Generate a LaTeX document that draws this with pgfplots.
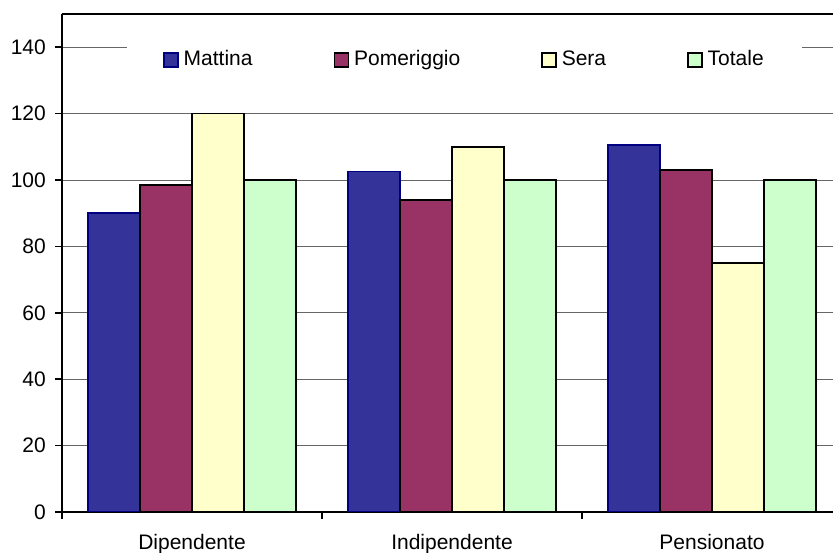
\documentclass[border=0pt]{standalone}
\usepackage{fontspec}
\setmainfont{Liberation Sans}
\usepackage{pgfplots}
\pgfplotsset{compat=1.18}
\usetikzlibrary{calc}
\definecolor{cM}{HTML}{333399}
\definecolor{cMb}{HTML}{000080}
\definecolor{cP}{HTML}{993366}
\definecolor{cS}{HTML}{FFFFCC}
\definecolor{cT}{HTML}{CCFFCC}
\begin{document}
\fontsize{21}{25}\selectfont
\begin{tikzpicture}
\begin{axis}[
  name=ax,
  scale only axis,
  width=771pt, height=498pt,
  xmin=-0.5, xmax=2.4654,
  ymin=0, ymax=150,
  axis x line*=box,
  axis y line*=left,
  axis line style={line width=1.8pt, black},
  ytick={0,20,...,140},
  ymajorgrids,
  grid style={line width=0.9pt, gray!80!black},
  xtick={0,1,2},
  xticklabels={Dipendente,Indipendente,Pensionato},
  minor xtick={-0.5,0.5,1.5},
  xtick pos=bottom,
  ytick pos=left,
  tick align=outside,
  major tick length=7pt,
  minor tick length=7pt,
  major x tick style={draw=none},
  tick style={line width=1.5pt, black},
  minor tick style={line width=1.5pt, black},
  /pgf/number format/assume math mode=true,
  tick label style={font=\fontsize{21}{25}\selectfont},
  y tick label style={xshift=-2pt},
  x tick label style={yshift=-8.5pt},
  ybar,
  bar width=0.2,
  legend columns=4,
  legend style={at={(0.522,0.908)}, anchor=center, draw=none, fill=white,
    font=\fontsize{21}{25}\selectfont, inner xsep=36pt, inner ysep=10pt,
    /tikz/every odd column/.append style={column sep=3pt},
    /tikz/every even column/.append style={column sep=79pt}},
  legend image code/.code={\draw[#1] (0pt,-7pt) rectangle (14pt,7pt);},
]
\addplot[fill=cM, draw=cMb, line width=1.5pt, bar shift=-0.3] coordinates {(0,90) (1,102.5) (2,110.5)};
\addplot[fill=cP, draw=black, line width=1.5pt, bar shift=-0.1] coordinates {(0,98.5) (1,94) (2,103)};
\addplot[fill=cS, draw=black, line width=1.5pt, bar shift=0.1] coordinates {(0,120) (1,110) (2,75)};
\addplot[fill=cT, draw=black, line width=1.5pt, bar shift=0.3] coordinates {(0,100) (1,100) (2,100)};
\legend{Mattina,Pomeriggio,Sera,Totale}
\end{axis}
\pgfresetboundingbox
\path ($(ax.south west)+(-62pt,-41pt)$) rectangle ($(ax.south west)+(771pt,512pt)$);
\end{tikzpicture}
\end{document}
